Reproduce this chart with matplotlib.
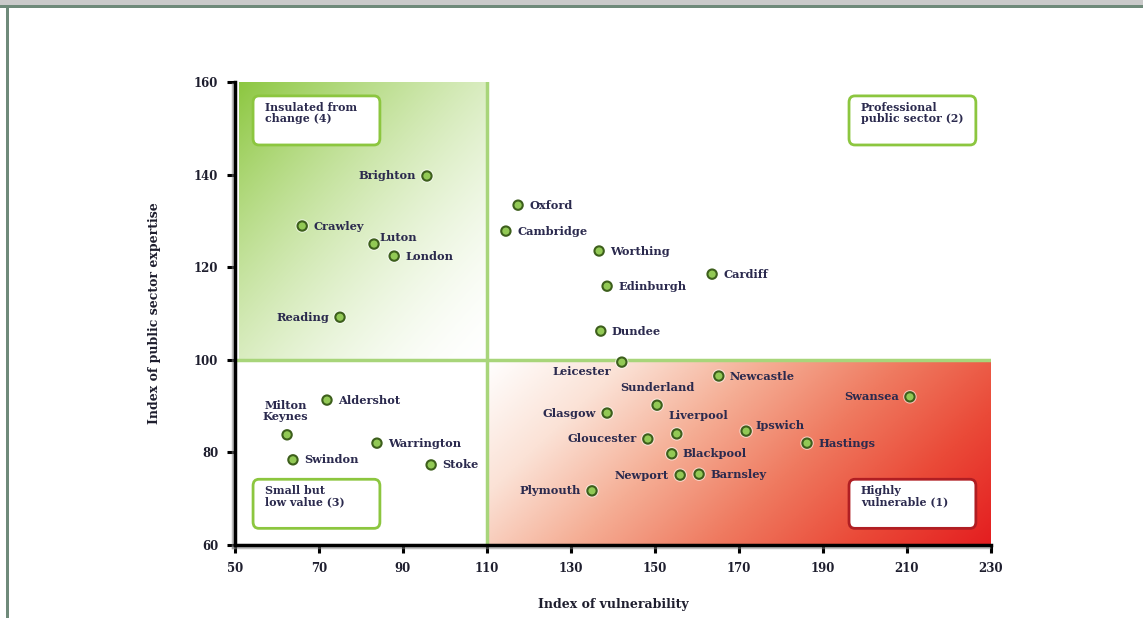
import numpy as np
import matplotlib
matplotlib.use('Agg')
import matplotlib.pyplot as plt
import matplotlib.patheffects as pe
from matplotlib.colors import LinearSegmentedColormap
from matplotlib.patches import FancyBboxPatch, Rectangle

# Cities: vulnerability index (x) vs public sector expertise index (y)
cities = ['Brighton', 'Crawley', 'Luton', 'London', 'Reading',
          'Oxford', 'Cambridge', 'Worthing', 'Cardiff', 'Edinburgh', 'Dundee',
          'Leicester', 'Newcastle', 'Sunderland', 'Swansea', 'Glasgow', 'Liverpool',
          'Ipswich', 'Gloucester', 'Hastings', 'Blackpool', 'Newport', 'Barnsley',
          'Plymouth', 'Aldershot', 'Milton\nKeynes', 'Warrington', 'Swindon', 'Stoke']
vulnerability = [95.7, 66.0, 83.1, 87.9, 75.0,
                 117.4, 114.5, 136.7, 163.6, 138.6, 137.1,
                 142.1, 165.2, 150.5, 210.7, 138.6, 155.2,
                 171.7, 148.3, 186.2, 154.0, 156.0, 160.5,
                 135.0, 71.9, 62.4, 83.8, 63.8, 96.7]
expertise = [139.7, 128.9, 125.0, 122.4, 109.2,
             133.4, 127.8, 123.5, 118.5, 115.9, 106.2,
             99.5, 96.5, 90.2, 92.0, 88.5, 84.0,
             84.6, 82.9, 82.0, 79.7, 75.1, 75.3,
             71.7, 91.3, 83.8, 82.0, 78.4, 77.3]

# label placement: (dx, dy in points, ha, va)
label_pos = {
    'Brighton': (-8, 0, 'right', 'center'),
    'Reading': (-8, 0, 'right', 'center'),
    'Luton': (4, 5, 'left', 'center'),
    'Leicester': (-8, -7, 'right', 'center'),
    'Swansea': (-8, 0, 'right', 'center'),
    'Glasgow': (-8, 0, 'right', 'center'),
    'Gloucester': (-8, 0, 'right', 'center'),
    'Newport': (-8, 0, 'right', 'center'),
    'Plymouth': (-8, 0, 'right', 'center'),
    'Sunderland': (0, 9, 'center', 'bottom'),
    'Liverpool': (-6, 9, 'left', 'bottom'),
    'Ipswich': (7, 4, 'left', 'center'),
    'Milton\nKeynes': (-1, 9, 'center', 'bottom'),
}

quadrants = ['Insulated from\nchange (4)', 'Professional\npublic sector (2)',
             'Small but\nlow value (3)', 'Highly\nvulnerable (1)']
quad_xy = [(54.3, 146.4), (196.2, 146.4), (54.3, 63.6), (196.2, 63.6)]
quad_edge = ['#8cc63f', '#8cc63f', '#8cc63f', '#b01e23']

x_ticks = list(range(50, 231, 20))
y_ticks = list(range(60, 161, 20))

navy = '#2b2a4e'
font = 'DejaVu Serif'

fig = plt.figure(figsize=(11.43, 6.18), dpi=100)
ax = fig.add_axes([0.2056, 0.1181, 0.6614, 0.7492])

# gradient quadrants
n = 300
u = np.linspace(0, 1, n)
U, V = np.meshgrid(u, u)
# upper-left: green at top-left fading to white at bottom-right
t = np.clip(((1 - U) + V) / 2, 0, 1) ** 1.6
g = np.array([0.55, 0.78, 0.25])
img_g = np.ones((n, n, 3)) * (1 - t[..., None]) + g * t[..., None]
ax.imshow(img_g, extent=(51, 110, 100, 160), origin='lower', aspect='auto', zorder=0)
# lower-right: white at left to red at bottom-right
reds = LinearSegmentedColormap.from_list(
    'warm', ['#ffffff', '#fbe2d6', '#f5ae95', '#ef7a60', '#ea4a38', '#e41e20'])
t2 = np.clip(0.72 * U + 0.28 * (1 - V), 0, 1)
ax.imshow(t2, cmap=reds, vmin=0, vmax=1, extent=(110, 230, 60, 100),
          origin='lower', aspect='auto', zorder=0)

ax.plot([110, 110], [60, 160], color='#a8d57a', lw=2.5, zorder=1)
ax.plot([50, 230.5], [100, 100], color='#a8d57a', lw=2.5, zorder=1)

ax.scatter(vulnerability, expertise, s=45, color='#92c955', edgecolor='#3d5f1c',
           linewidth=1.5, zorder=4,
           path_effects=[pe.withStroke(linewidth=3, foreground='white', alpha=0.6)])

for name, x, y in zip(cities, vulnerability, expertise):
    dx, dy, ha, va = label_pos.get(name, (8, 0, 'left', 'center'))
    ax.annotate(name, (x, y), xytext=(dx, dy), textcoords='offset points',
                ha=ha, va=va, fontsize=8.2, fontweight='bold', color=navy,
                family=font, linespacing=1.0, zorder=5)

for label, (qx, qy), ec in zip(quadrants, quad_xy, quad_edge):
    box = FancyBboxPatch((qx, qy), 30.2, 10.6, boxstyle='round,pad=0,rounding_size=1.4',
                         mutation_aspect=1.0, facecolor='white', edgecolor=ec,
                         linewidth=2, zorder=3)
    ax.add_patch(box)
    ax.text(qx + 2.8, qy + 9.3, label, ha='left', va='top', fontsize=7.9,
            fontweight='bold', color=navy, family=font, linespacing=1.0, zorder=5)

ax.set_xlim(50, 230)
ax.set_ylim(60, 160)
ax.set_xticks(x_ticks)
ax.set_yticks(y_ticks)
ax.tick_params(direction='out', length=6, width=2.2, color='black', pad=6,
               labelsize=8.5, labelcolor='#1e1e2e')
for lbl in ax.get_xticklabels() + ax.get_yticklabels():
    lbl.set_family(font)
    lbl.set_fontweight('bold')

for side in ['top', 'right']:
    ax.spines[side].set_visible(False)
for side in ['left', 'bottom']:
    ax.spines[side].set_linewidth(2.5)
    ax.spines[side].set_path_effects([
        pe.SimpleLineShadow(offset=(-1.5, -1.5), shadow_color='gray', alpha=0.5),
        pe.Normal()])

ax.set_xlabel('Index of vulnerability', fontsize=9, fontweight='bold',
              family=font, color='#1e1e2e', labelpad=17)
ax.set_ylabel('Index of public sector expertise', fontsize=9, fontweight='bold',
              family=font, color='#1e1e2e', labelpad=24)

# page frame from the source document
fig.patches.append(Rectangle((0, 1 - 5 / 618), 1, 5 / 618, transform=fig.transFigure,
                             facecolor='#cacaca', edgecolor='none'))
fig.patches.append(Rectangle((0, 1 - 7.5 / 618), 1, 2.5 / 618, transform=fig.transFigure,
                             facecolor='#6f8a7a', edgecolor='none'))
fig.patches.append(Rectangle((6 / 1143, 0), 2.5 / 1143, 1 - 5 / 618, transform=fig.transFigure,
                             facecolor='#6f8a7a', edgecolor='none'))

fig.savefig('out.png', dpi=100)
